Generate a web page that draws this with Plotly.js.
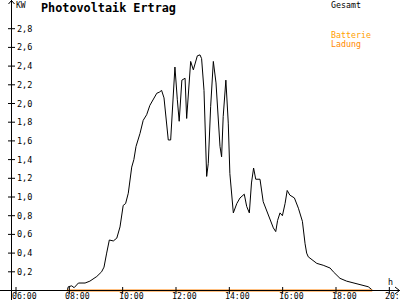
<!DOCTYPE html>
<html>
<head>
<meta charset="utf-8">
<script src="https://cdn.plot.ly/plotly-3.0.1.min.js"></script>
<style>html,body{margin:0;padding:0;background:#fff;}#chart{width:400px;height:300px;}</style>
</head>
<body>
<div id="chart"></div>
<script>
// Gesamt (total) output, time in decimal hours, value in kW
const gesamtTime = [7.92,7.96,8.09,8.18,8.34,8.46,8.59,8.77,9.03,9.21,9.30,9.40,9.50,9.65,9.78,9.90,10.02,10.11,10.21,10.34,10.42,10.50,10.65,10.77,10.90,11.02,11.15,11.28,11.37,11.46,11.55,11.65,11.71,11.80,11.88,11.96,12.05,12.12,12.22,12.34,12.40,12.50,12.55,12.65,12.80,12.90,12.96,13.05,13.12,13.15,13.21,13.30,13.40,13.50,13.65,13.71,13.77,13.87,13.96,14.02,14.15,14.28,14.40,14.56,14.65,14.75,14.83,14.91,14.99,15.15,15.27,15.40,15.52,15.65,15.74,15.81,15.90,15.99,16.09,16.17,16.27,16.44,16.59,16.74,16.84,16.90,16.96,17.09,17.28,17.52,17.78,17.90,18.15,18.40,18.65,18.96,19.21,19.34,19.36];
const gesamtKW = [0.00,0.04,0.05,0.03,0.08,0.08,0.08,0.10,0.15,0.20,0.25,0.40,0.54,0.53,0.56,0.68,0.91,0.93,1.04,1.32,1.40,1.54,1.68,1.82,1.88,1.98,2.04,2.11,2.12,2.14,2.06,1.82,1.61,1.61,2.04,2.39,2.04,1.81,2.25,2.27,1.84,2.32,2.45,2.36,2.51,2.52,2.48,2.14,1.43,1.22,1.36,1.97,2.45,2.22,1.54,1.43,1.86,2.25,1.79,1.25,0.83,0.93,0.99,1.03,0.90,0.83,1.15,1.31,1.19,1.19,0.95,0.86,0.77,0.67,0.63,0.75,0.83,0.80,0.93,1.07,1.02,0.99,0.88,0.74,0.50,0.40,0.36,0.33,0.29,0.27,0.24,0.20,0.13,0.10,0.08,0.06,0.04,0.01,0.00];
// Batterie Ladung (battery charge)
const ladungTime = [7.92, 19.36];
const ladungKW = [0, 0];
// ticks
const yTickVals = [0.2,0.4,0.6,0.8,1.0,1.2,1.4,1.6,1.8,2.0,2.2,2.4,2.6,2.8];
const yTickText = ["0,2","0,4","0,6","0,8","1,0","1,2","1,4","1,6","1,8","2,0","2,2","2,4","2,6","2,8"];
const xTickVals = [6,8,10,12,14,16,18,20];
const xTickText = ["06:00","08:00","10:00","12:00","14:00","16:00","18:00","20:00"];

const W = 400, H = 300;
const px = v => v / W;          // pixel -> paper x
const py = v => 1 - v / H;      // pixel -> paper y
const mono = "DejaVu Sans Mono";

const shapes = [];
const annotations = [];

// y axis line
shapes.push({type:'line', xref:'paper', yref:'paper', x0:px(11.5), x1:px(11.5), y0:0, y1:1, line:{color:'#000', width:1}});
// x axis line
shapes.push({type:'line', xref:'paper', yref:'y', x0:0, x1:1, y0:0, y1:0, line:{color:'#000', width:1}});
// arrows
shapes.push({type:'path', xref:'paper', yref:'paper', path:`M ${px(8.5)} ${py(4)} L ${px(11.5)} ${py(0.5)} L ${px(14.5)} ${py(4)}`, line:{color:'#000', width:1}});
shapes.push({type:'path', xref:'paper', yref:'paper', path:`M ${px(395)} ${py(287)} L ${px(399.5)} ${py(290.5)} L ${px(395)} ${py(294)}`, line:{color:'#000', width:1}});

yTickVals.forEach((v, i) => {
  shapes.push({type:'line', xref:'paper', yref:'y', x0:px(8), x1:px(15), y0:v, y1:v, line:{color:'#000', width:1}});
  annotations.push({xref:'paper', yref:'y', x:px(14.5), y:v, xanchor:'left', yanchor:'middle', text:yTickText[i], showarrow:false, font:{family:mono, size:8.5, color:'#000'}});
});
xTickVals.forEach((v, i) => {
  shapes.push({type:'line', xref:'x', yref:'paper', x0:v, x1:v, y0:py(287), y1:py(294), line:{color:'#000', width:1}});
  annotations.push({xref:'x', yref:'paper', x:v, y:py(295.6), xanchor:'left', yanchor:'middle', xshift:-5, text:xTickText[i], showarrow:false, borderpad:0, font:{family:mono, size:8.2, color:'#000'}});
});

annotations.push({xref:'paper', yref:'paper', x:px(14), y:py(5), xanchor:'left', yanchor:'middle', text:'KW', showarrow:false, font:{family:mono, size:8, color:'#000'}});
annotations.push({xref:'paper', yref:'paper', x:px(39), y:py(8), xanchor:'left', yanchor:'middle', text:'<b>Photovoltaik Ertrag</b>', showarrow:false, font:{family:mono, size:11.8, color:'#000'}});
annotations.push({xref:'paper', yref:'paper', x:px(329), y:py(5), xanchor:'left', yanchor:'middle', text:'Gesamt', showarrow:false, font:{family:mono, size:8.3, color:'#000'}});
annotations.push({xref:'paper', yref:'paper', x:px(329), y:py(35.5), xanchor:'left', yanchor:'middle', text:'Batterie', showarrow:false, font:{family:mono, size:8.3, color:'#FFA000'}});
annotations.push({xref:'paper', yref:'paper', x:px(329), y:py(44.5), xanchor:'left', yanchor:'middle', text:'Ladung', showarrow:false, font:{family:mono, size:8.3, color:'#FF8800'}});
annotations.push({xref:'paper', yref:'paper', x:px(386), y:py(282), xanchor:'left', yanchor:'middle', text:'h', showarrow:false, font:{family:mono, size:8.3, color:'#000'}});

const traces = [
  {x: gesamtTime, y: gesamtKW, type:'scatter', mode:'lines', line:{color:'#000', width:1, shape:'linear'}, name:'Gesamt', hoverinfo:'skip'},
  {x: ladungTime, y: ladungKW, type:'scatter', mode:'lines', line:{color:'#FF8000', width:2}, name:'Batterie Ladung', hoverinfo:'skip'}
];

const layout = {
  width: W, height: H,
  margin: {l:0, r:0, t:0, b:0, pad:0},
  paper_bgcolor:'#fff', plot_bgcolor:'#fff',
  showlegend:false,
  xaxis:{range:[5.4, 20.4], visible:false, showgrid:false, zeroline:false, fixedrange:true},
  yaxis:{range:[-0.1016, 3.107], visible:false, showgrid:false, zeroline:false, fixedrange:true},
  shapes: shapes,
  annotations: annotations
};

Plotly.newPlot('chart', traces, layout, {staticPlot:true, displayModeBar:false});
</script>
</body>
</html>
